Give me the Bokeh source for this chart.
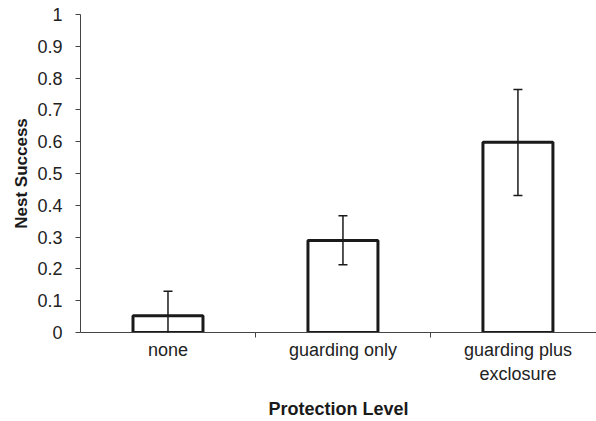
from bokeh.plotting import figure
from bokeh.models import ColumnDataSource, FixedTicker, Range1d, Whisker, TeeHead
from bokeh.embed import file_html
from bokeh.resources import INLINE

categories = ["none", "guarding only", "guarding plus\nexclosure"]
success = [0.053, 0.289, 0.598]
err_lower = [-0.023, 0.213, 0.431]
err_upper = [0.130, 0.367, 0.764]
y_ticks = [0, 0.1, 0.2, 0.3, 0.4, 0.5, 0.6, 0.7, 0.8, 0.9, 1]

xpos = [i + 0.5 for i in range(len(categories))]
boundaries = [float(i) for i in range(1, len(categories))]

src = ColumnDataSource(dict(x=xpos, top=success, lower=err_lower, upper=err_upper))

FONT = "Liberation Sans"

p = figure(width=596, height=421, output_backend="svg", toolbar_location=None,
           x_range=Range1d(0, 2.949), y_range=Range1d(0, 1),
           min_border_left=80, min_border_right=0, min_border_top=14, min_border_bottom=89)
p.outline_line_color = None
p.xgrid.visible = False
p.ygrid.visible = False
p.background_fill_color = "white"
p.border_fill_color = "white"

p.vbar(x="x", top="top", bottom=0, width=0.4, source=src,
       fill_color="white", line_color="#1a1a1a", line_width=3)

w = Whisker(base="x", lower="lower", upper="upper", source=src, level="overlay",
            line_color="#1a1a1a", line_width=1.5,
            upper_head=TeeHead(size=9, line_color="#1a1a1a", line_width=1.5),
            lower_head=TeeHead(size=9, line_color="#1a1a1a", line_width=1.5))
p.add_layout(w)

# y axis
ya = p.yaxis[0]
ya.ticker = FixedTicker(ticks=y_ticks, minor_ticks=[])
ya.major_label_overrides = {0: "0", 1: "1"}
ya.axis_line_color = "#444444"
ya.major_tick_line_color = "#444444"
ya.major_tick_out = 5
ya.major_tick_in = 0
ya.major_label_standoff = 13
ya.major_label_text_font = FONT
ya.major_label_text_font_size = "18px"
ya.major_label_text_color = "#222222"
ya.axis_label = "Nest Success"
ya.axis_label_text_font = FONT
ya.axis_label_text_font_style = "bold"
ya.axis_label_text_font_size = "17px"
ya.axis_label_text_color = "#1a1a1a"
ya.axis_label_standoff = 3

# x axis
xa = p.xaxis[0]
xa.ticker = FixedTicker(ticks=xpos, minor_ticks=boundaries)
xa.major_label_overrides = {x: c for x, c in zip(xpos, categories)}
xa.axis_line_color = "#444444"
xa.major_tick_line_color = None
xa.major_tick_out = 0
xa.major_tick_in = 0
xa.minor_tick_line_color = "#444444"
xa.minor_tick_out = 5
xa.minor_tick_in = 0
xa.major_label_standoff = 2
xa.major_label_text_font = FONT
xa.major_label_text_font_size = "18px"
xa.major_label_text_color = "#222222"
xa.axis_label = "Protection Level"
xa.axis_label_text_font = FONT
xa.axis_label_text_font_style = "bold"
xa.axis_label_text_font_size = "18px"
xa.axis_label_text_color = "#1a1a1a"
xa.axis_label_standoff = 12

open("out.html", "w").write(file_html(p, INLINE))
